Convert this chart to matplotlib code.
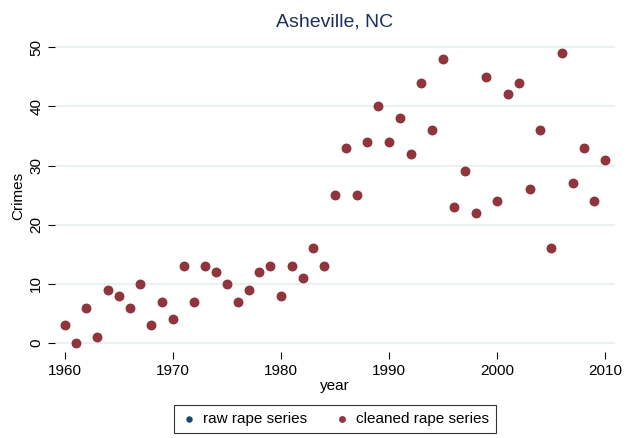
import matplotlib
matplotlib.use("Agg")
from matplotlib import pyplot as plt

plt.rcParams["font.family"] = ["Liberation Sans", "DejaVu Sans"]

years = list(range(1960, 2011))
cleaned = [3, 0, 6, 1, 9, 8, 6, 10, 3, 7,
           4, 13, 7, 13, 12, 10, 7, 9, 12, 13,
           8, 13, 11, 16, 13, 25, 33, 25, 34, 40,
           34, 38, 32, 44, 36, 48, 23, 29, 22, 45,
           24, 42, 44, 26, 36, 16, 49, 27, 33, 24,
           31]
raw = list(cleaned)

navy = "#1a476f"
maroon = "#90353b"

fig = plt.figure(figsize=(6.36, 4.38), dpi=100)
ax = fig.add_axes([55/636, 1-352/438, 560/636, 312/438])

ax.scatter(years, raw, s=44, color=navy, linewidths=0, label="raw rape series", zorder=3)
ax.scatter(years, cleaned, s=50, color=maroon, linewidths=0, label="cleaned rape series", zorder=4)

ax.set_xlim(1959.1, 2010.9)
ax.set_ylim(-1.5, 51.2)
ax.set_xticks([1960, 1970, 1980, 1990, 2000, 2010])
ax.set_yticks([0, 10, 20, 30, 40, 50])
ax.grid(axis="y", color="#e6eff1", linewidth=1.2, zorder=0)
for s in ax.spines.values():
    s.set_visible(False)
ax.tick_params(direction="out", length=5, width=0.8, labelsize=11, color="black")
plt.setp(ax.get_yticklabels(), rotation=90, va="center")
ax.set_xlabel("year", fontsize=11, labelpad=1)
ax.set_ylabel("Crimes", fontsize=11, labelpad=3)
ax.set_title("Asheville, NC", fontsize=14, color="#1e2f5c", pad=10)

leg = fig.legend(loc="center", bbox_to_anchor=(335/636, 1-419/438), ncol=2,
                 frameon=True, fancybox=False, edgecolor="black", fontsize=11,
                 markerscale=0.7, handlelength=1.0, handletextpad=0.4,
                 columnspacing=1.8, borderpad=0.45)
leg.get_frame().set_linewidth(0.8)

fig.savefig("out.png", dpi=100, facecolor="white")
